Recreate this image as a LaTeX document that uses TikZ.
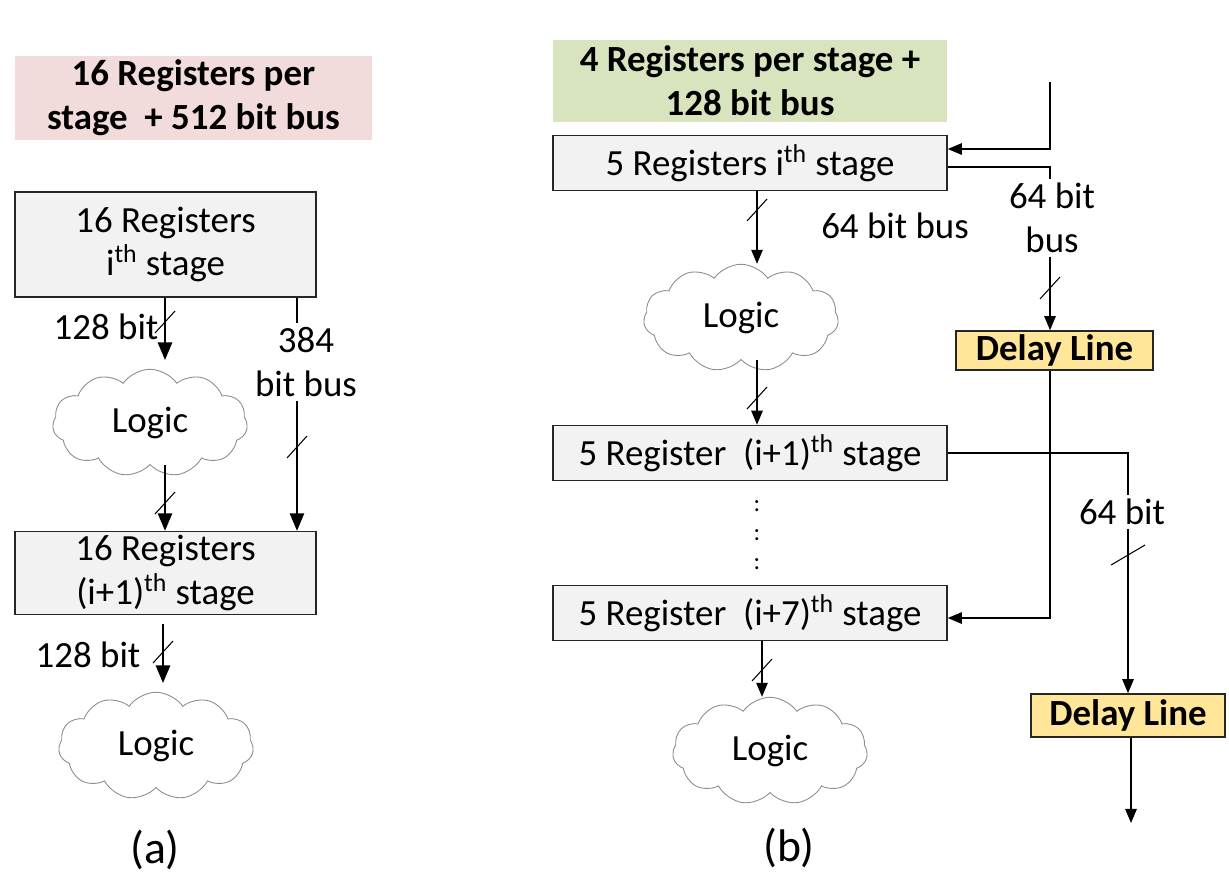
\documentclass[tikz,border=0pt]{standalone}
\usepackage{fontspec}
\setmainfont{Carlito}
\usetikzlibrary{arrows.meta,shapes.symbols,calc}

\definecolor{pinkbg}{RGB}{242,220,219}
\definecolor{greenbg}{RGB}{215,228,189}
\definecolor{delayyellow}{RGB}{255,230,153}
\definecolor{regfill}{RGB}{242,242,242}

\newcommand{\buscut}[1]{\draw[line width=0.6pt] ($(#1)+(-10,11)$) -- ($(#1)+(10,-11)$);}

\begin{document}
\begin{tikzpicture}[x=0.02cm, y=-0.02cm,
    every node/.style={font=\fontsize{21}{25}\selectfont, align=center, inner sep=2pt},
    reg/.style={draw=black!85, fill=regfill, line width=0.9pt, minimum width=7.88cm, minimum height=1.1cm},
    bigreg/.style={reg, minimum width=6.02cm},
    title/.style={font=\fontsize{21}{25}\selectfont\bfseries, minimum height=1.6cm},
    delay/.style={draw=black!85, fill=delayyellow, line width=0.9pt, font=\fontsize{21}{25}\selectfont\bfseries, minimum width=3.94cm, minimum height=0.78cm, inner sep=0pt},
    logic/.style={cloud, cloud puffs=11, cloud puff arc=110, aspect=1.8, draw=black!45, line width=0.5pt, minimum width=3.9cm, minimum height=2.15cm},
    fat/.style={line width=1.4pt, -{Triangle[length=10pt,width=8pt]}},
    bus/.style={line width=0.85pt, -{Triangle[length=8pt,width=6.5pt]}},
    wire/.style={line width=0.85pt}
]
    \useasboundingbox (0,0) rectangle (1229,877);

    \node[title, fill=pinkbg, minimum width=7.14cm] (titleA) at (193.5,98) {16 Registers per\\stage \ + 512 bit bus};
    \node[bigreg, minimum height=2.1cm] (regA1) at (165.5,244.5) {16 Registers\\i\textsuperscript{th} stage};
    \node[logic] (logicA1) at (150,423) {Logic};
    \node[bigreg, minimum height=1.6cm] (regA2) at (165.5,573) {16 Registers\\(i+1)\textsuperscript{th} stage};
    \node[logic] (logicA2) at (156,746) {Logic};
    \node (bitA1) at (106,327) {128 bit};
    \node (busA) at (306,362) {384\\bit bus};
    \node (bitA2) at (88,655) {128 bit};
    \node[font=\fontsize{26}{30}\selectfont] (capA) at (155,850) {(a)};

    \coordinate (colA) at (165,0);
    \coordinate (colA2) at (163,0);
    \coordinate (colBus) at (297,0);

    \draw[fat, shorten >=5pt] (regA1.south -| colA) -- (logicA1.north -| colA);
    \draw[fat] (logicA1.south -| colA) -- (regA2.north -| colA);
    \draw[fat, shorten <=5pt, shorten >=5pt] (regA2.south -| colA2) -- (logicA2.north -| colA2);
    \draw[line width=1.4pt] (regA1.south -| colBus) -- (busA.north -| colBus);
    \draw[fat] (busA.south -| colBus) -- (regA2.north -| colBus);

    \buscut{165,322}
    \buscut{165,503}
    \buscut{163,652}
    \buscut{297,447}

    \node[title, fill=greenbg, minimum width=7.88cm, minimum height=1.64cm] (titleB) at (750,81) {4 Registers per stage +\\128 bit bus};
    \node[reg] (regB1) at (750,163) {5 Registers i\textsuperscript{th} stage};
    \node[logic] (logicB1) at (741,318) {Logic};
    \node[reg] (regB2) at (750,453) {5 Register \ (i+1)\textsuperscript{th} stage};
    \node[reg] (regB3) at (750,613) {5 Register \ (i+7)\textsuperscript{th} stage};
    \node[logic] (logicB2) at (770,751) {Logic};
    \node[delay] (delayB1) at (1054.5,350.5) {Delay Line};
    \node[delay, minimum width=3.88cm, minimum height=0.86cm] (delayB2) at (1128,715.5) {Delay Line};
    \node (busB1) at (895,226) {64 bit bus};
    \node (busB2) at (1052,218) {64 bit\\bus};
    \node (bitB) at (1122,512) {64 bit};
    \foreach \y in {506,535,564}
        \node[font=\fontsize{14}{16}\selectfont, inner sep=0pt] (dots\y) at (757,\y) {:};
    \node[font=\fontsize{26}{30}\selectfont] (capB) at (789,848) {(b)};

    \coordinate (colB) at (757,0);
    \coordinate (colC) at (762,0);
    \coordinate (fbtop) at (1050,82);
    \coordinate (outB) at (1131,823);

    \draw[bus] (regB1.south -| colB) -- (logicB1.north -| colB);
    \draw[bus] (logicB1.south -| colB) -- (regB2.north -| colB);
    \draw[bus] (regB3.south -| colC) -- (logicB2.north -| colC);
    \draw[bus] (fbtop) |- ($(regB1.east)+(0,-14)$);
    \draw[wire] ($(regB1.east)+(0,4)$) -| (busB2.north -| fbtop);
    \draw[bus] (busB2.south -| fbtop) -- (delayB1.north -| fbtop);
    \draw[bus] (delayB1.south -| fbtop) |- ($(regB3.east)+(0,5)$);
    \draw[wire] (regB2.east) -| (bitB.north -| delayB2.north);
    \draw[bus] (bitB.south -| delayB2.north) -- (delayB2.north);
    \draw[bus] (delayB2.south -| outB) -- (outB);

    \buscut{757,210}
    \buscut{757,398}
    \buscut{762,670}
    \buscut{1050,288}
    \draw[line width=0.6pt] ($(1128,555)+(-17,10)$) -- ($(1128,555)+(17,-10)$);
\end{tikzpicture}
\end{document}
